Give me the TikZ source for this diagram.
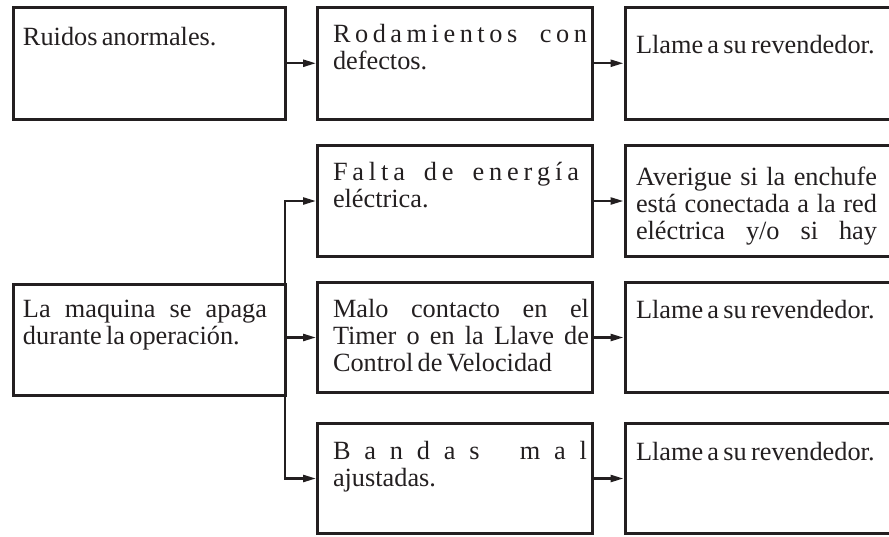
\documentclass[tikz,border=0pt]{standalone}
\usepackage{fontspec}
\setmainfont{Liberation Serif}
\usetikzlibrary{arrows.meta}
\definecolor{ink}{HTML}{231F20}
\newcommand\lgap{\hskip 0pt plus 1fil\relax}
\newcommand\wgap[1]{\hskip 4.5pt plus #1fil\relax}
\newcommand\js{\hskip 4.5pt plus 1fil\relax}
\newcommand\fline[2]{\leavevmode\strut\hbox to #1{#2}}
\tikzset{
  box/.style={draw=ink, line width=3pt, rectangle, inner sep=0pt, outer sep=0pt, anchor=north west},
  txt/.style={inner sep=0pt, outer sep=0pt, anchor=north west, align=left, text=ink,
              font=\fontsize{26.3}{26}\selectfont,
              execute at begin node={\spaceskip=4.3pt plus 2pt minus 1pt\relax}},
  conn/.style={draw=ink, line width=2.4pt, -{Triangle[length=13pt,width=7pt]}, shorten >=1.5pt},
}
\begin{document}
\begin{tikzpicture}[x=1pt,y=-1pt]
\useasboundingbox (0,0) rectangle (889,536);
\clip (0,0) rectangle (889,536);
% row 1
\node[box, minimum width=272pt, minimum height=111.5pt] (a) at (13,7.5) {};
\node[box, minimum width=275pt, minimum height=111.5pt] (b) at (317.5,7.5) {};
\node[box, minimum width=300pt, minimum height=111.5pt] (c) at (625,7.5) {};
% row 2
\node[box, minimum width=275pt, minimum height=111pt] (fal) at (317.5,145.5) {};
\node[box, minimum width=300pt, minimum height=111pt] (ave) at (625,145.5) {};
% row 3
\node[box, minimum width=272pt, minimum height=111.5pt] (maq) at (13,284) {};
\node[box, minimum width=275pt, minimum height=110pt] (malo) at (317.5,282.5) {};
\node[box, minimum width=300pt, minimum height=110pt] (ll3) at (625,282.5) {};
% row 4
\node[box, minimum width=275pt, minimum height=110pt] (ban) at (317.5,423.5) {};
\node[box, minimum width=300pt, minimum height=110pt] (ll4) at (625,423.5) {};

% texts
\node[txt, text width=248pt] (ta) at (23,27.5) {\strut Ruidos anormales.};
\node[txt, text width=258pt] (tb) at (333,24.1) {\fline{254pt}{R\lgap o\lgap d\lgap a\lgap m\lgap i\lgap e\lgap n\lgap t\lgap o\lgap s\wgap{4}c\lgap o\lgap n}\\defectos.};
\node[txt, text width=250pt] (tc) at (636,35.5) {\strut Llame a su revendedor.};

\node[txt, text width=258pt] (tfal) at (333,161.8) {\fline{246pt}{F\lgap a\lgap l\lgap t\lgap a\wgap{3}d\lgap e\wgap{3}e\lgap n\lgap e\lgap r\lgap g\lgap í\lgap a}\\eléctrica.};
\node[txt, text width=250pt] (tave) at (636,166.8) {\fline{241pt}{Averigue\js si\js la\js enchufe}\\\fline{241pt}{está\js conectada\js a\js la\js red}\\\fline{241pt}{eléctrica\js y/o\js si\js hay}};

\node[txt, text width=248pt] (tmaq) at (23,298.8) {\fline{244pt}{La\js maquina\js se\js apaga}\\durante la operación.};
\node[txt, text width=258pt] (tmalo) at (333,298.8) {\fline{256pt}{Malo\js contacto\js en\js el}\\\fline{256pt}{Timer\js o\js en\js la\js Llave\js de}\\Control de Velocidad};
\node[txt, text width=250pt] (tll3) at (636,300.5) {\strut Llame a su revendedor.};

\node[txt, text width=258pt] (tban) at (333,441.5) {\fline{254pt}{B\lgap a\lgap n\lgap d\lgap a\lgap s\wgap{2.6}m\lgap a\lgap l}\\ajustadas.};
\node[txt, text width=250pt] (tll4) at (636,442.3) {\strut Llame a su revendedor.};

% connectors
\draw[conn] (a.east) -- (b.west);
\draw[conn] (b.east) -- (c.west);
\draw[conn] (fal.east) -- (ave.west);
\draw[conn] (malo.east) -- (ll3.west);
\draw[conn] (ban.east) -- (ll4.west);
\draw[conn] (maq.east) |- (fal.west);
\draw[conn] (maq.east) |- (malo.west);
\draw[conn] (maq.east) |- (ban.west);
\end{tikzpicture}
\end{document}
